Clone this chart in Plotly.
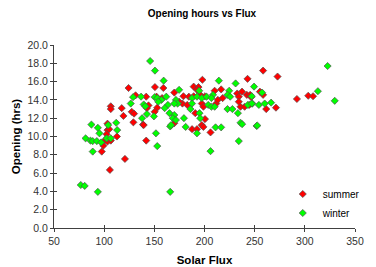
import plotly.graph_objects as go

summer_flux = [124.3, 150.6, 159.0, 131.3, 141.9, 152.2, 106.6, 106.6, 117.5, 144.2,
               142.6, 152.9, 150.3, 127.5, 129.8, 119.2, 129.1, 138.7, 103.3, 103.3,
               105.0, 102.4, 112.7, 100.8, 103.3, 106.6, 99.2, 97.6, 120.7, 105.7,
               141.9, 139.4, 197.9, 242.9, 169.9, 189.2, 194.0, 192.5, 210.1, 216.6,
               232.6, 237.4, 242.2, 234.2, 157.7, 179.0, 184.4, 189.2, 195.7, 200.5,
               178.0, 182.8, 174.7, 197.3, 198.9, 211.7, 213.3, 218.1, 234.2, 235.9,
               240.0, 244.6, 169.9, 190.8, 200.5, 197.3, 198.9, 187.6, 192.5, 206.0,
               258.4, 272.8, 255.2, 258.4, 245.5, 246.5, 261.5, 271.2, 292.1, 303.4,
               308.2]
summer_hours = [15.3, 15.4, 15.3, 14.5, 14.35, 14.35, 13.3, 13.0, 13.1, 13.4,
                13.1, 13.15, 12.7, 12.7, 12.5, 12.25, 11.55, 11.3, 11.4, 10.7,
                10.8, 10.25, 10.0, 9.6, 9.45, 9.55, 9.0, 8.35, 7.55, 6.35,
                9.55, 11.25, 16.2, 16.3, 14.8, 15.45, 15.4, 15.1, 15.0, 15.15,
                14.7, 14.9, 14.55, 14.35, 14.2, 14.4, 14.35, 14.4, 14.55, 14.4,
                13.6, 13.45, 13.8, 13.6, 13.25, 13.6, 14.0, 14.2, 13.8, 13.25,
                13.25, 13.45, 11.45, 12.55, 11.9, 11.25, 11.05, 10.8, 10.8, 10.45,
                17.2, 16.55, 14.9, 14.55, 14.55, 14.3, 13.0, 13.15, 14.1, 14.45,
                14.4]

winter_flux = [145.8, 150.6, 159.3, 128.8, 136.8, 150.3, 152.9, 157.1, 153.9, 126.5,
               139.4, 141.0, 142.6, 149.6, 137.8, 87.3, 93.7, 104.0, 112.0, 95.3,
               113.0, 151.6, 81.5, 86.3, 88.6, 92.7, 97.0, 102.4, 106.6, 88.6,
               76.7, 80.6, 93.7, 165.8, 152.9, 165.8, 214.3, 231.0, 249.4, 174.7,
               194.7, 224.6, 222.9, 225.6, 247.1, 161.9, 187.6, 192.5, 197.3, 202.1,
               208.5, 206.9, 171.5, 173.2, 169.9, 163.5, 160.3, 187.6, 186.0, 203.7,
               206.9, 210.1, 222.9, 227.8, 233.3, 243.2, 247.7, 165.1, 169.9, 168.4,
               171.5, 166.7, 179.5, 195.0, 195.7, 192.5, 181.2, 211.0, 216.6, 235.9,
               237.5, 234.2, 206.0, 251.9, 322.7, 257.4, 247.1, 254.2, 260.0, 266.4,
               252.6, 313.0, 329.8]
winter_hours = [18.25, 17.2, 16.1, 14.3, 14.35, 14.3, 14.2, 14.0, 13.8, 13.6,
                13.5, 13.3, 12.45, 12.2, 12.0, 11.3, 10.95, 11.25, 11.5, 10.35,
                10.7, 10.35, 9.8, 9.55, 9.5, 9.5, 9.35, 9.8, 9.8, 8.35,
                4.7, 4.6, 3.95, 3.95, 8.95, 11.1, 16.1, 15.8, 15.45, 15.1,
                15.0, 15.0, 14.55, 14.35, 14.4, 14.35, 14.2, 14.35, 14.2, 14.35,
                14.55, 14.2, 14.0, 13.6, 13.6, 13.45, 13.1, 13.6, 13.0, 13.45,
                13.25, 13.25, 13.0, 13.0, 12.55, 13.45, 13.6, 12.55, 12.35, 12.0,
                11.8, 11.25, 12.0, 12.55, 12.0, 10.35, 11.05, 11.0, 11.0, 11.5,
                11.35, 9.5, 8.4, 11.15, 17.7, 14.8, 13.6, 13.45, 13.6, 13.7,
                11.2, 14.95, 13.9]

x_range = [50, 350]
y_range = [0, 20]

FONT = "Arial, 'Liberation Sans', sans-serif"
AX = "#404040"

# the page places the figure 8px in from the window's top-left corner
W, H = 368, 259

fig = go.Figure()
fig.add_trace(go.Scatter(
    x=summer_flux, y=summer_hours, mode="markers", name="summer",
    marker=dict(symbol="diamond", size=5.5, color="#FF0000",
                line=dict(color="#505050", width=0.7)),
    xaxis="x", yaxis="y"))
fig.add_trace(go.Scatter(
    x=winter_flux, y=winter_hours, mode="markers", name="winter",
    marker=dict(symbol="diamond", size=5.5, color="#00FF00",
                line=dict(color="#505050", width=0.7)),
    xaxis="x2", yaxis="y2"))

common = dict(showgrid=False, zeroline=False, showline=True, linecolor=AX,
              linewidth=1, tickcolor=AX, tickwidth=1, automargin=False)

fig.update_layout(
    width=W, height=H,
    margin=dict(l=46, r=11, t=37, b=39),
    paper_bgcolor="white", plot_bgcolor="white",
    font=dict(family=FONT, size=10, color="#000"),
    title=dict(text="<b>Opening hours vs Flux</b>", x=194 / W, xanchor="center",
               y=1 - 5 / H, yanchor="middle", font=dict(size=10)),
    showlegend=True,
    legend=dict(x=0.76, y=0.265, xanchor="left", yanchor="top",
                bgcolor="rgba(0,0,0,0)", itemwidth=30,
                font=dict(size=10, family=FONT), tracegroupgap=0),
    xaxis=dict(range=x_range, dtick=50, tick0=50, ticks="outside", ticklen=3,
               title=dict(text="<b>Solar Flux</b>", font=dict(size=11.5), standoff=10),
               tickfont=dict(size=10.5, color="#333"), **common),
    yaxis=dict(range=y_range, dtick=2, tick0=0, tickformat=".1f", ticks="outside",
               ticklen=3,
               title=dict(text="<b>Opening (hrs)</b>", font=dict(size=11.5), standoff=4),
               tickfont=dict(size=10.5, color="#333"), **common),
    xaxis2=dict(range=x_range, overlaying="x", side="bottom", anchor="y2",
                ticks="inside", ticklen=3, dtick=50, tick0=50,
                showticklabels=False, **common),
    yaxis2=dict(range=y_range, overlaying="y", side="left", anchor="x2",
                ticks="inside", ticklen=3, dtick=2, tick0=0,
                showticklabels=False, **common),
)

fig.write_html("out.html")
